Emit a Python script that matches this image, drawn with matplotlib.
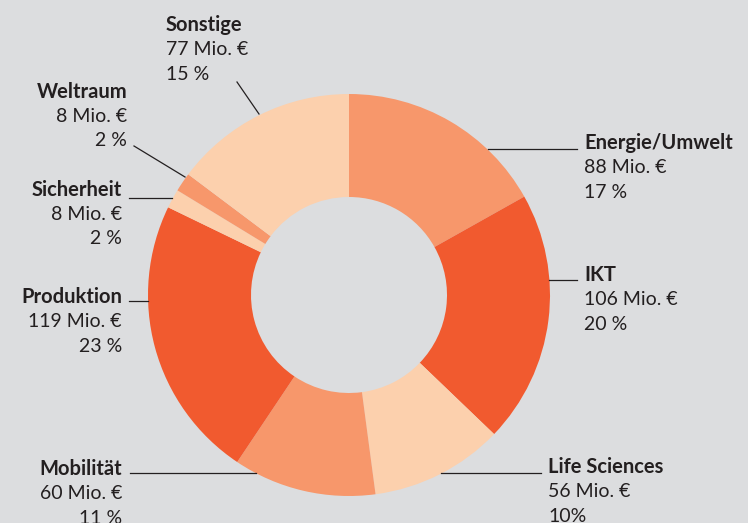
import matplotlib.pyplot as plt

# data, clockwise from 12 o'clock
categories = ['Energie/Umwelt', 'IKT', 'Life Sciences', 'Mobilität',
              'Produktion', 'Sicherheit', 'Weltraum', 'Sonstige']
amounts = [88, 106, 56, 60, 119, 8, 8, 77]
pct_labels = ['17 %', '20 %', '10%', '11 %', '23 %', '2 %', '2 %', '15 %']

DARK = '#f15a2f'
MID = '#f7976b'
LIGHT = '#fcd0ad'
colors = [MID, DARK, LIGHT, MID, DARK, LIGHT, MID, LIGHT]
BG = '#dcdddf'

W, H = 748, 523
fig = plt.figure(figsize=(W / 100, H / 100), dpi=100, facecolor=BG)
ax = fig.add_axes([0, 0, 1, 1])
ax.set_facecolor(BG)

cx, cy, R, r = 349, H - 295, 201, 98
ax.pie(amounts, colors=colors, startangle=90, counterclock=False,
       center=(cx, cy), radius=R, frame=True,
       wedgeprops=dict(width=R - r, linewidth=0))
ax.set_xlim(0, W)
ax.set_ylim(0, H)
ax.set_aspect('equal')
ax.axis('off')

# label layout: (x, y of first line, ha, leader line points)
layout = {
    'Sonstige':       (166, 25, 'left', [(237, 82), (259, 114)]),
    'Weltraum':       (127, 92, 'right', [(134, 146), (185, 177)]),
    'Sicherheit':     (122, 190, 'right', [(129, 198), (172, 198)]),
    'Produktion':     (122, 297, 'right', [(129, 301), (148, 301)]),
    'Mobilität':      (122, 469, 'right', [(130, 473), (256, 473)]),
    'Energie/Umwelt': (584, 143, 'left', [(488, 149), (577, 149)]),
    'IKT':            (584, 275, 'left', [(549, 280), (577, 280)]),
    'Life Sciences':  (548, 467, 'left', [(441, 473), (541, 473)]),
}

font = 'Lato'
txt = '#231f20'
step = 24.5
for name, amt, pct in zip(categories, amounts, pct_labels):
    x, y, ha, pts = layout[name]
    ax.text(x, H - y, name, ha=ha, va='center', fontsize=14.5,
            fontweight='bold', family=font, color=txt)
    ax.text(x, H - y - step, f'{amt} Mio. €', ha=ha, va='center',
            fontsize=14, family=font, color=txt)
    ax.text(x, H - y - 2 * step, pct, ha=ha, va='center',
            fontsize=14, family=font, color=txt)
    (x0, y0), (x1, y1) = pts
    ax.plot([x0, x1], [H - y0, H - y1], color=txt, lw=0.9)

fig.savefig('out.png', dpi=100, facecolor=BG)
